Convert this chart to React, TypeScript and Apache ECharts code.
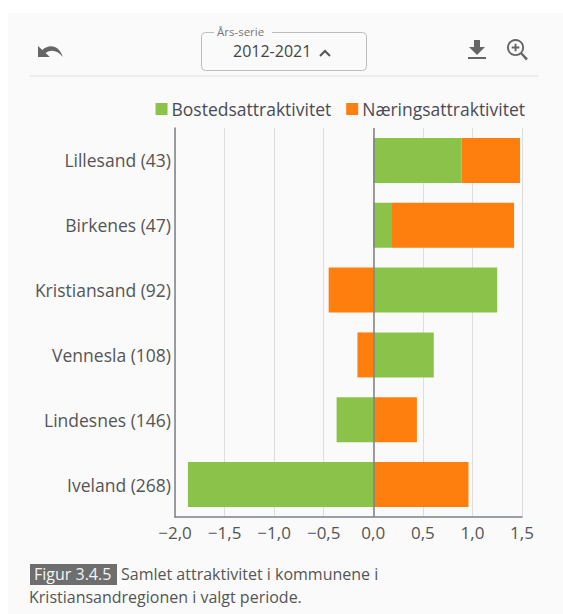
import React, { useEffect, useRef } from "react";
import * as echarts from "echarts";

const categories = ["Lillesand (43)", "Birkenes (47)", "Kristiansand (92)", "Vennesla (108)", "Lindesnes (146)", "Iveland (268)"];
const bosted = [0.89, 0.18, 1.25, 0.61, -0.37, -1.87];
const naering = [0.59, 1.24, -0.45, -0.16, 0.44, 0.96];
const seriesNames = ["Bostedsattraktivitet", "Næringsattraktivitet"];
const FONT = "'Open Sans', sans-serif";

const undoPath = "M0 3 L0 14 L11 14 L7 10 C12 6 18 7 23 14 C20 3 11 0 4 7 Z";
const downloadPath = "M6 0 H12 V7 H17 L9 15 L1 7 H6 Z M0 17 H18 V19 H0 Z";
const zoomPath = "M9 0 A9 9 0 1 1 8.99 0 Z M9 2 A7 7 0 1 0 9.01 2 Z M8 5 H10 V8 H13 V10 H10 V13 H8 V10 H5 V8 H8 Z M15 13.5 L22 20.5 L20 22.5 L13.5 15 Z";
echarts.graphic.registerShape("undoI", (echarts.graphic as any).extendPath(undoPath, {}));
echarts.graphic.registerShape("downloadI", (echarts.graphic as any).extendPath(downloadPath, {}));
echarts.graphic.registerShape("zoomI", (echarts.graphic as any).extendPath(zoomPath, {}));

export default function App() {
  const ref = useRef<HTMLDivElement>(null);
  useEffect(() => {
    const chart = echarts.init(ref.current!, undefined, { renderer: "svg" });
    chart.setOption({
      animation: false,
      backgroundColor: "#ffffff",
      textStyle: { fontFamily: FONT },
      grid: { left: 175, right: 41, top: 128, bottom: 97, containLabel: false },
      legend: {
        top: 100,
        right: 38,
        padding: 0,
        itemWidth: 12,
        itemHeight: 12,
        itemGap: 15,
        icon: "rect",
        textStyle: { fontFamily: FONT, fontSize: 17.5, color: "#4a4a55", padding: [0, 0, 0, -1] },
        data: seriesNames,
      },
      xAxis: {
        type: "value",
        min: -2,
        max: 1.5,
        interval: 0.5,
        axisLine: { show: true, onZero: false, lineStyle: { color: "#7d8087", width: 1.5 } },
        axisTick: { show: false },
        splitLine: { show: true, lineStyle: { color: "#dedede", width: 1 } },
        axisLabel: {
          fontFamily: FONT,
          fontSize: 17,
          color: "#555555",
          margin: 7,
          formatter: (v: number) => (v < 0 ? "\u2212" : "") + Math.abs(v).toFixed(1).replace(".", ","),
        },
      },
      yAxis: {
        type: "category",
        inverse: true,
        data: categories,
        axisLine: { show: true, onZero: false, lineStyle: { color: "#7d8087", width: 1.5 } },
        axisTick: { show: false },
        axisLabel: { fontFamily: FONT, fontSize: 17.5, color: "#555555", margin: 4, padding: [0, 0, 2, 0] },
      },
      series: [
        {
          name: seriesNames[0],
          type: "bar",
          stack: "total",
          barWidth: 45,
          data: bosted,
          itemStyle: { color: "#8bc34a" },
          markLine: {
            silent: true,
            symbol: "none",
            label: { show: false },
            lineStyle: { color: "#7d8087", width: 1.5, type: "solid" },
            data: [{ xAxis: 0 }],
            z: 10,
          },
        },
        {
          name: seriesNames[1],
          type: "bar",
          stack: "total",
          barWidth: 45,
          data: naering,
          itemStyle: { color: "#ff7f0e" },
        },
      ],
      graphic: [
        { type: "rect", z: -10, silent: true, shape: { x: 8, y: 13, width: 555, height: 601 }, style: { fill: "#fafafa" } },
        { type: "line", shape: { x1: 30, y1: 76, x2: 538, y2: 76 }, style: { stroke: "#e0e0e0", lineWidth: 1 } },
        { type: "rect", shape: { x: 201.5, y: 32.5, width: 165, height: 38, r: 4 }, style: { fill: "transparent", stroke: "#bdbdbd", lineWidth: 1 } },
        { type: "rect", shape: { x: 214, y: 28, width: 58, height: 8 }, style: { fill: "#fafafa" } },
        { type: "text", x: 217, y: 25, style: { text: "Års-serie", fontFamily: FONT, fontSize: 11.5, fill: "#777777" } },
        { type: "text", x: 233, y: 43, style: { text: "2012-2021", fontFamily: FONT, fontSize: 16, fill: "#444444" } },
        { type: "polyline", shape: { points: [[320, 56], [325, 51], [330, 56]] }, style: { stroke: "#555555", lineWidth: 2, fill: "none" } },
        { type: "undoI", x: 38, y: 43, scaleX: 1.08, scaleY: 1, style: { fill: "#666666" } },
        { type: "downloadI", x: 468, y: 40, scaleX: 1, scaleY: 1, style: { fill: "#666666" } },
        { type: "zoomI", x: 507, y: 39, scaleX: 0.95, scaleY: 0.95, style: { fill: "#666666" } },
        { type: "rect", shape: { x: 30, y: 564, width: 87, height: 21 }, style: { fill: "#6e6e6e" } },
        { type: "text", x: 34, y: 566, style: { text: "Figur 3.4.5", fontFamily: FONT, fontSize: 16, fill: "#f5f5f5" } },
        { type: "text", x: 121, y: 566, style: { text: "Samlet attraktivitet i kommunene i", fontFamily: FONT, fontSize: 16, fill: "#555555" } },
        { type: "text", x: 29, y: 589, style: { text: "Kristiansandregionen i valgt periode.", fontFamily: FONT, fontSize: 16, fill: "#555555" } },
      ],
    });
    return () => chart.dispose();
  }, []);
  return <div ref={ref} style={{ position: "absolute", left: 0, top: 0, width: 563, height: 614 }} />;
}
